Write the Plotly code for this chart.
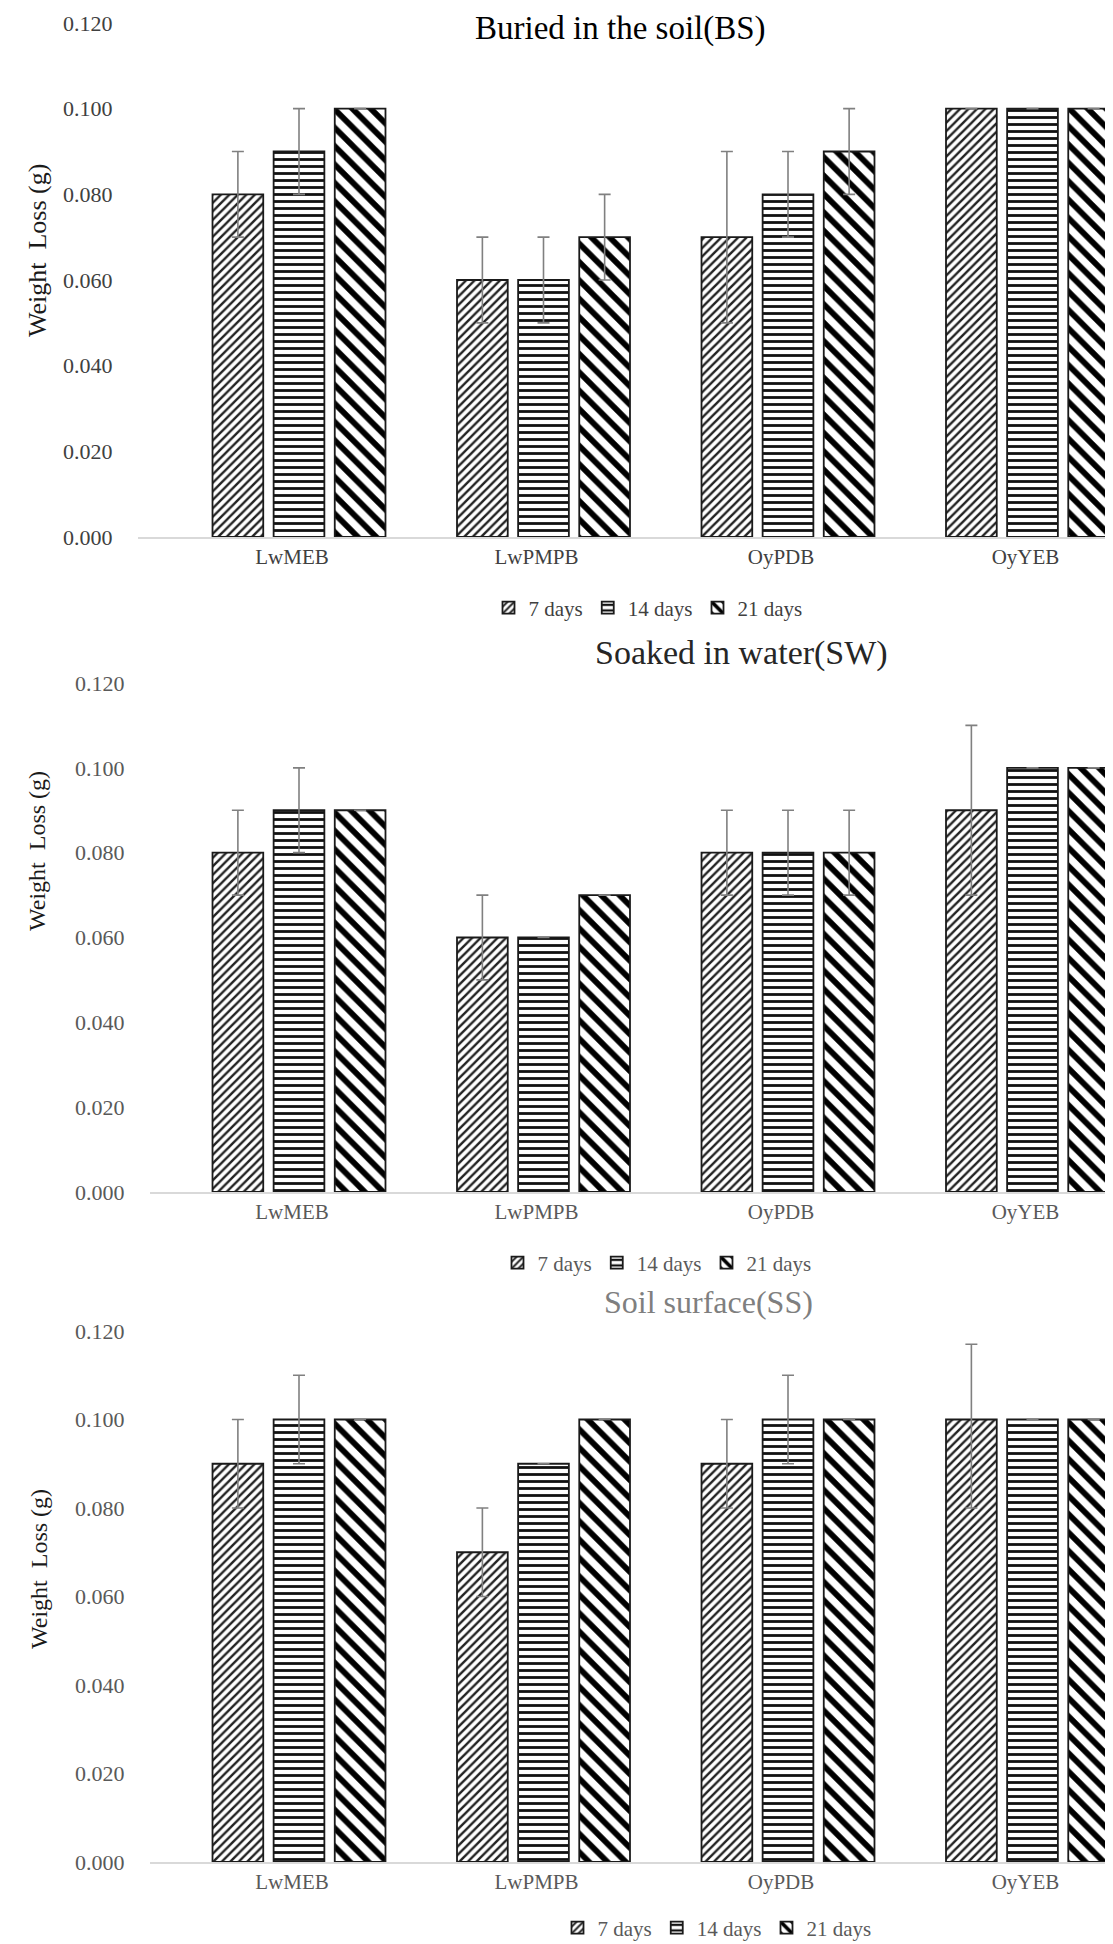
import plotly.graph_objects as go

categories = ["LwMEB", "LwPMPB", "OyPDB", "OyYEB"]
series_names = ["7 days", "14 days", "21 days"]

# Buried in the soil (BS)
bs_7 = [0.080, 0.060, 0.070, 0.100]
bs_14 = [0.090, 0.060, 0.080, 0.100]
bs_21 = [0.100, 0.070, 0.090, 0.100]
bs_err_7 = [0.010, 0.010, 0.020, None]
bs_err_14 = [0.010, 0.010, 0.010, None]
bs_err_21 = [None, 0.010, 0.010, None]

# Soaked in water (SW)
sw_7 = [0.080, 0.060, 0.080, 0.090]
sw_14 = [0.090, 0.060, 0.080, 0.100]
sw_21 = [0.090, 0.070, 0.080, 0.100]
sw_err_7 = [0.010, 0.010, 0.010, 0.020]
sw_err_14 = [0.010, None, 0.010, None]
sw_err_21 = [None, None, 0.010, None]

# Soil surface (SS)
ss_7 = [0.090, 0.070, 0.090, 0.100]
ss_14 = [0.100, 0.090, 0.100, 0.100]
ss_21 = [0.100, 0.100, 0.100, 0.100]
ss_err_7_plus = [0.010, 0.010, 0.010, 0.017]
ss_err_7_minus = [0.010, 0.010, 0.010, 0.020]
ss_err_14 = [0.010, None, 0.010, None]
ss_err_21 = [None, None, None, None]

titles = ["Buried in the soil(BS)", "Soaked in water(SW)", "Soil surface(SS)"]
y_ticks = [0.0, 0.02, 0.04, 0.06, 0.08, 0.10, 0.12]

W, H = 1113, 1944
FONT = "Liberation Serif"

patterns = [
    dict(shape="/", size=6, solidity=0.4, fgcolor="#222222", bgcolor="white", fgopacity=1),
    dict(shape="-", size=7, solidity=0.4, fgcolor="#111111", bgcolor="white", fgopacity=1),
    dict(shape="\\", size=13, solidity=0.45, fgcolor="#000000", bgcolor="white", fgopacity=1),
]

panels = [
    dict(vals=[bs_7, bs_14, bs_21],
         errs=[(bs_err_7, bs_err_7), (bs_err_14, bs_err_14), (bs_err_21, bs_err_21)],
         top=15, bottom=529, left=130, title_x=612, title_y=20, title_color="#000000", title_size=33,
         ytitle_x=29, ytitle_y=243, ytitle_size=26, leg_x=640, leg_y=600, tick_color="#404040"),
    dict(vals=[sw_7, sw_14, sw_21],
         errs=[(sw_err_7, sw_err_7), (sw_err_14, sw_err_14), (sw_err_21, sw_err_21)],
         top=675, bottom=1184, left=142, title_x=733, title_y=645, title_color="#262626", title_size=34,
         ytitle_x=29, ytitle_y=843, ytitle_size=24, leg_x=649, leg_y=1255, tick_color="#595959"),
    dict(vals=[ss_7, ss_14, ss_21],
         errs=[(ss_err_7_plus, ss_err_7_minus), (ss_err_14, ss_err_14), (ss_err_21, ss_err_21)],
         top=1323, bottom=1854, left=142, title_x=700, title_y=1294, title_color="#7f7f7f", title_size=32,
         ytitle_x=31, ytitle_y=1561, ytitle_size=24, leg_x=709, leg_y=1920, tick_color="#595959"),
]

fig = go.Figure()
annotations = []
legend_names = ["legend", "legend2", "legend3"]
c0_px, pitch_px = 291.0, 244.5

for i, p in enumerate(panels):
    xa = "x" if i == 0 else f"x{i+1}"
    ya = "y" if i == 0 else f"y{i+1}"
    for s in range(3):
        plus, minus = p["errs"][s]
        fig.add_trace(go.Bar(
            x=categories, y=p["vals"][s], name=series_names[s],
            xaxis=xa, yaxis=ya, legend=legend_names[i],
            marker=dict(color="white", pattern=patterns[s],
                        line=dict(color="#1a1a1a", width=1.8)),
            error_y=dict(type="data", array=plus, arrayminus=minus, symmetric=False,
                         color="#808080", thickness=1.6, width=6, visible=True),
        ))
    xdom0 = p["left"] / W
    rng = [(p["left"] - c0_px) / pitch_px, (W - c0_px) / pitch_px]
    ydom = [1 - p["bottom"] / H, 1 - p["top"] / H]
    xkey = "xaxis" if i == 0 else f"xaxis{i+1}"
    ykey = "yaxis" if i == 0 else f"yaxis{i+1}"
    fig.update_layout(**{
        xkey: dict(domain=[xdom0, 1.0], anchor=ya, type="category", range=rng, automargin=False,
                   showline=True, linecolor="#d9d9d9", linewidth=1.5, showgrid=False,
                   zeroline=False, ticks="", ticklabelshift=-7,
                   tickfont=dict(family=FONT, size=21, color=p["tick_color"])),
        ykey: dict(domain=ydom, anchor=xa, range=[0, 0.12], tickvals=y_ticks, tickformat=".3f",
                   automargin=False, showline=False, showgrid=False, zeroline=False,
                   ticks="outside", ticklen=20, tickcolor="rgba(0,0,0,0)",
                   tickfont=dict(family=FONT, size=22, color=p["tick_color"])),
    })
    annotations.append(dict(text=titles[i], x=p["title_x"] / W, y=1 - p["title_y"] / H,
                            xref="paper", yref="paper", showarrow=False,
                            xanchor="center", yanchor="middle",
                            font=dict(family=FONT, size=p["title_size"], color=p["title_color"])))
    annotations.append(dict(text="Weight  Loss (g)", x=p["ytitle_x"] / W, y=1 - p["ytitle_y"] / H,
                            xref="paper", yref="paper", showarrow=False, textangle=-90,
                            xanchor="center", yanchor="middle",
                            font=dict(family=FONT, size=p["ytitle_size"], color="#1a1a1a")))
    fig.update_layout(**{legend_names[i]: dict(
        orientation="h", x=p["leg_x"] / W, y=1 - p["leg_y"] / H,
        xanchor="center", yanchor="middle", bgcolor="rgba(0,0,0,0)",
        font=dict(family=FONT, size=21, color=p["tick_color"]),
        itemwidth=30, tracegroupgap=0)})

fig.update_layout(
    width=W, height=H,
    margin=dict(l=0, r=0, t=0, b=0, autoexpand=False),
    paper_bgcolor="white", plot_bgcolor="white",
    barmode="group", bargap=0.25, bargroupgap=0.17,
    showlegend=True,
    annotations=annotations,
)

fig.write_html("out.html")
